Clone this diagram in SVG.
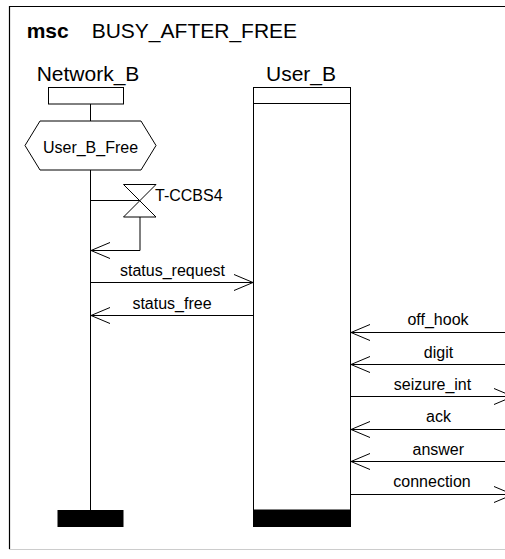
<svg xmlns="http://www.w3.org/2000/svg" width="505" height="559" viewBox="0 0 505 559">
  <style>
    .ln { fill: none; stroke: #000; stroke-width: 1; }
    .box { fill: #fff; stroke: #000; stroke-width: 1; }
    .bar { fill: #000; stroke: none; }
    .t { font-family: "Liberation Sans", Arial, sans-serif; fill: #000; }
    .big { font-size: 21px; }
    .lbl { font-size: 16px; text-anchor: middle; }
  </style>
  <defs>
    <marker id="arr" markerUnits="userSpaceOnUse" markerWidth="22" markerHeight="20" viewBox="-20 -10 22 20" refX="0" refY="0" orient="auto" overflow="visible">
      <path d="M-19,-8 L0,0 L-19,8" fill="none" stroke="#000" stroke-width="1"/>
    </marker>
  </defs>
  <rect x="0" y="0" width="505" height="559" fill="#fff"/>

  <g id="frame">
    <path d="M530,6.5 H9.5 V549" fill="none" stroke="#000" stroke-width="1.2"/>
    <line x1="9" y1="549.5" x2="530" y2="549.5" stroke="#cccccc" stroke-width="1"/>
    <text class="t big" x="26.7" y="37.7" font-weight="bold">msc</text>
    <text class="t big" x="91.7" y="37.7">BUSY_AFTER_FREE</text>
  </g>

  <g id="network_b">
    <text class="t big" x="88" y="80.7" text-anchor="middle">Network_B</text>
    <rect class="box" x="48.5" y="87.5" width="75" height="16.5"/>
    <line class="ln" x1="90.5" y1="104" x2="90.5" y2="121"/>
    <line class="ln" x1="90.5" y1="170" x2="90.5" y2="510"/>
    <rect class="bar" x="57.5" y="510" width="66" height="17"/>
  </g>

  <g id="condition_user_b_free">
    <polygon class="box" points="25,145.5 40,121 141,121 156,145.5 141,170 40,170"/>
    <text class="t lbl" x="90.5" y="152.5">User_B_Free</text>
  </g>

  <g id="timer_t_ccbs4">
    <polygon class="box" points="123.5,184.5 156,184.5 123.5,217 156,217"/>
    <text class="t" font-size="16" x="155" y="201">T-CCBS4</text>
  </g>

  <g id="user_b">
    <text class="t big" x="301" y="81" text-anchor="middle">User_B</text>
    <rect class="box" x="253.5" y="87.5" width="97" height="422.5"/>
    <line class="ln" x1="253.5" y1="103.5" x2="350.5" y2="103.5"/>
    <rect class="bar" x="253" y="510" width="98" height="17"/>
  </g>

  <g id="connectors">
    <line class="ln" x1="90.5" y1="200.5" x2="140" y2="200.5"/>
    <path class="ln" d="M140,217 V250.5 H91" marker-end="url(#arr)"/>

    <line class="ln" x1="90.5" y1="282.5" x2="253" y2="282.5" marker-end="url(#arr)"/>
    <text class="t lbl" x="172.5" y="276">status_request</text>

    <line class="ln" x1="253.5" y1="315.5" x2="91" y2="315.5" marker-end="url(#arr)"/>
    <text class="t lbl" x="172" y="309">status_free</text>

    <line class="ln" x1="530" y1="332.5" x2="351" y2="332.5" marker-end="url(#arr)"/>
    <text class="t lbl" x="438" y="325">off_hook</text>

    <line class="ln" x1="530" y1="364.5" x2="351" y2="364.5" marker-end="url(#arr)"/>
    <text class="t lbl" x="438.5" y="357.5">digit</text>

    <line class="ln" x1="350.5" y1="396.5" x2="513" y2="396.5" marker-end="url(#arr)"/>
    <text class="t lbl" x="432.5" y="389.7">seizure_int</text>

    <line class="ln" x1="530" y1="429.5" x2="351" y2="429.5" marker-end="url(#arr)"/>
    <text class="t lbl" x="438.5" y="422.3">ack</text>

    <line class="ln" x1="530" y1="461.5" x2="351" y2="461.5" marker-end="url(#arr)"/>
    <text class="t lbl" x="438.3" y="454.7">answer</text>

    <line class="ln" x1="350.5" y1="494.5" x2="513" y2="494.5" marker-end="url(#arr)"/>
    <text class="t lbl" x="432" y="487.3">connection</text>
  </g>
</svg>
